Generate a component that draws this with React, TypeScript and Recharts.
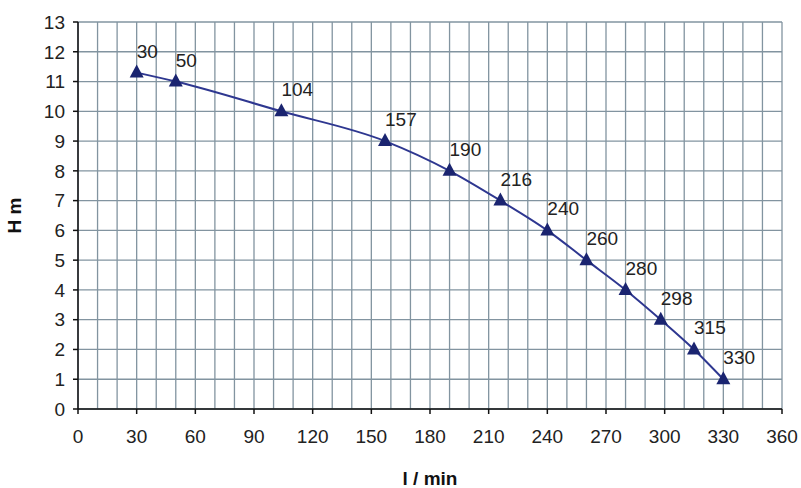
import { LineChart, Line, XAxis, YAxis, CartesianGrid, LabelList } from 'recharts';

const flows = [30, 50, 104, 157, 190, 216, 240, 260, 280, 298, 315, 330];
const heads = [11.3, 11, 10, 9, 8, 7, 6, 5, 4, 3, 2, 1];
const xTicks = [0, 30, 60, 90, 120, 150, 180, 210, 240, 270, 300, 330, 360];
const xGridTicks = Array.from({ length: 37 }, (_, i) => i * 10);
const yTicks = [0, 1, 2, 3, 4, 5, 6, 7, 8, 9, 10, 11, 12, 13];

const data = flows.map((q, i) => ({ q, h: heads[i] }));

const FONT = '"Liberation Sans", Arial, sans-serif';
const NAVY = '#1a2470';

function Triangle(props: any) {
  const { cx, cy } = props;
  if (cx == null || cy == null) return null;
  return (
    <polygon
      points={`${cx},${cy - 8} ${cx - 7},${cy + 5} ${cx + 7},${cy + 5}`}
      fill={NAVY}
    />
  );
}

function PointLabel(props: any) {
  const { x, y, value } = props;
  return (
    <text x={x} y={y - 15} fontSize={19} fontFamily={FONT} fill="#222">
      {value}
    </text>
  );
}

export default function App() {
  return (
    <div style={{ position: 'absolute', left: 0, top: 0, width: 801, height: 488, background: '#fff' }}>
      <LineChart width={801} height={488} data={data} margin={{ top: 22, right: 19, bottom: 49, left: 20 }}>
        <CartesianGrid xAxisId="grid" stroke="#8294a0" strokeWidth={1.3} />
        <XAxis
          xAxisId="grid"
          dataKey="q"
          type="number"
          domain={[0, 360]}
          ticks={xGridTicks}
          interval={0}
          height={0}
          hide
        />
        <XAxis
          dataKey="q"
          type="number"
          domain={[0, 360]}
          ticks={xTicks}
          interval={0}
          height={30}
          stroke="#111"
          strokeWidth={1.5}
          tickSize={5}
          tick={{ fontSize: 19, fontFamily: FONT, fill: '#222', dy: 14 }}
          label={{ value: 'l / min', position: 'insideBottom', offset: -46, style: { fontSize: 19, fontWeight: 'bold', fontFamily: FONT, fill: '#111' } }}
        />
        <YAxis
          dataKey="h"
          type="number"
          domain={[0, 13]}
          ticks={yTicks}
          interval={0}
          width={58}
          stroke="#111"
          strokeWidth={1.5}
          tickSize={5}
          tick={{ fontSize: 19, fontFamily: FONT, fill: '#222', dx: -6 }}
          label={{ value: 'H m', angle: -90, position: 'insideLeft', offset: -6, style: { textAnchor: 'middle', fontSize: 19, fontWeight: 'bold', fontFamily: FONT, fill: '#111' } }}
        />
        <Line
          dataKey="h"
          type="monotone"
          stroke="#2e3790"
          strokeWidth={2}
          dot={<Triangle />}
          activeDot={false}
          isAnimationActive={false}
        >
          <LabelList dataKey="q" content={<PointLabel />} />
        </Line>
      </LineChart>
    </div>
  );
}
